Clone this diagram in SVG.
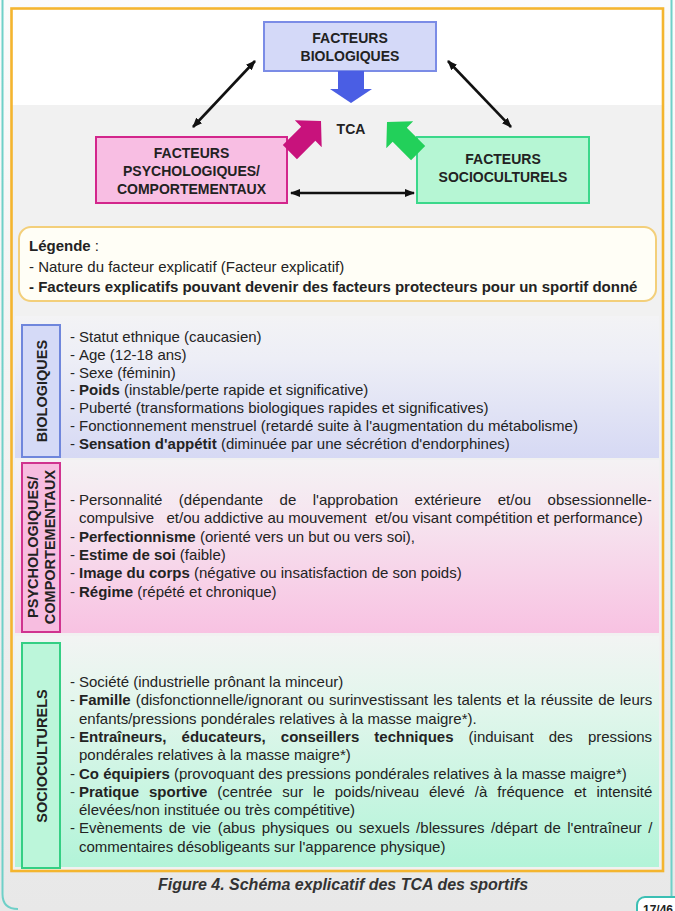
<svg xmlns="http://www.w3.org/2000/svg" width="675" height="911" viewBox="0 0 675 911">
<defs>
<style>
.txt{font-family:"Liberation Sans",Arial,Helvetica,sans-serif;font-size:15px;fill:#232323}
.b{font-weight:bold}
.head{font-family:"Liberation Sans",Arial,Helvetica,sans-serif;font-size:14px;font-weight:bold;fill:#222;text-anchor:middle}
.side{font-family:"Liberation Sans",Arial,Helvetica,sans-serif;font-size:14.5px;font-weight:bold;fill:#222;text-anchor:middle}
.conn{stroke:#111;stroke-width:2.6;fill:none;marker-start:url(#ah);marker-end:url(#ah)}
.teal{stroke:#6fd0c8;stroke-width:2;fill:none}
</style>
<marker id="ah" viewBox="0 0 10 8" refX="9" refY="4" markerWidth="10" markerHeight="8" markerUnits="userSpaceOnUse" orient="auto-start-reverse">
<path d="M0,0 L10,4 L0,8 z" fill="#111"/>
</marker>
<linearGradient id="gPage" x1="0" y1="0" x2="0" y2="1">
<stop offset="0" stop-color="#FBFBFB"/><stop offset="1" stop-color="#E8E8E8"/>
</linearGradient>
<linearGradient id="gBio" x1="0" y1="0" x2="0" y2="1">
<stop offset="0" stop-color="#F3F3F5"/><stop offset="0.3" stop-color="#EDEEF6"/><stop offset="1" stop-color="#D6D9F4"/>
</linearGradient>
<linearGradient id="gPsy" x1="0" y1="0" x2="0" y2="1">
<stop offset="0" stop-color="#F4F2F4"/><stop offset="0.3" stop-color="#F6E6F0"/><stop offset="1" stop-color="#F8C2E2"/>
</linearGradient>
<linearGradient id="gSoc" x1="0" y1="0" x2="0" y2="1">
<stop offset="0" stop-color="#F2F4F3"/><stop offset="0.3" stop-color="#E2F6EC"/><stop offset="1" stop-color="#B2F4D8"/>
</linearGradient>
<path id="blockArrow" d="M0,0 L-18,-19 L-18,-10 L-44,-10 L-44,10 L-18,10 L-18,19 Z"/>
</defs>

<!-- page background and outer frame -->
<rect x="0" y="0" width="675" height="911" fill="url(#gPage)"/>
<path class="teal" d="M2.5,0 V894 Q2.5,909 18,909"/>
<path class="teal" d="M671.5,0 V897"/>
<rect x="12" y="9" width="651" height="862" fill="#F1F1F1"/>
<rect x="12" y="9" width="651" height="96" fill="#FFFFFF"/>

<!-- factor bands -->
<rect x="15" y="316" width="644" height="142" fill="url(#gBio)"/>
<rect x="15" y="460" width="644" height="173" fill="url(#gPsy)"/>
<rect x="15" y="636" width="644" height="231" fill="url(#gSoc)"/>

<rect x="11.5" y="8.5" width="651.5" height="862.5" fill="none" stroke="#F4B52F" stroke-width="2.6"/>

<!-- connectors -->
<g id="connectors">
<line class="conn" x1="255" y1="61" x2="193" y2="127"/>
<line class="conn" x1="448" y1="61" x2="511" y2="127"/>
<line class="conn" x1="291" y1="193" x2="414" y2="193"/>
</g>

<!-- top diagram -->
<g id="node-bio">
<rect x="264" y="22" width="172" height="49" fill="#D4D9F8" stroke="#7B8CE6" stroke-width="2"/>
<text class="head" x="350" y="43">FACTEURS</text>
<text class="head" x="350" y="61">BIOLOGIQUES</text>
<polygon points="338,71 364,71 364,89 372,89 351,103 330,89 338,89" fill="#4A5EE4"/>
</g>

<g id="node-psy">
<rect x="96" y="137" width="191" height="66" fill="#F8BEE3" stroke="#D3268C" stroke-width="2"/>
<text class="head" x="191.5" y="158">FACTEURS</text>
<text class="head" x="191.5" y="176">PSYCHOLOGIQUES/</text>
<text class="head" x="191.5" y="194">COMPORTEMENTAUX</text>
<use href="#blockArrow" transform="translate(321,121) rotate(-45)" fill="#C8127C"/>
</g>

<g id="node-soc">
<rect x="417" y="137" width="172" height="66" fill="#B6F6D4" stroke="#3BD88B" stroke-width="2"/>
<text class="head" x="503" y="164">FACTEURS</text>
<text class="head" x="503" y="182">SOCIOCULTURELS</text>
<use href="#blockArrow" transform="translate(387,122) rotate(-135)" fill="#22D05A"/>
</g>

<g id="node-tca">
<text class="head" x="351" y="134">TCA</text>
</g>

<!-- legend -->
<g id="legend">
<rect x="19" y="227" width="637" height="74" rx="12" fill="#FFFEF6" stroke="#F3CF7A" stroke-width="2"/>
<text class="txt" x="29" y="251"><tspan class="b">Légende</tspan> :</text>
<text class="txt" x="29" y="272">- Nature du facteur explicatif (Facteur explicatif)</text>
<text class="txt b" x="29" y="292">- Facteurs explicatifs pouvant devenir des facteurs protecteurs pour un sportif donné</text>
</g>

<!-- biological factors -->
<g id="section-bio">
<rect x="22" y="325" width="38" height="132" fill="#D5DAF7" stroke="#6F86DC" stroke-width="2"/>
<text class="side" transform="translate(47,391) rotate(-90)">BIOLOGIQUES</text>
<g class="txt">
<text y="342"><tspan x="70">-</tspan><tspan x="79">Statut ethnique (caucasien)</tspan></text>
<text y="359.8"><tspan x="70">-</tspan><tspan x="79">Age (12-18 ans)</tspan></text>
<text y="377.6"><tspan x="70">-</tspan><tspan x="79">Sexe (féminin)</tspan></text>
<text y="395.4"><tspan x="70">-</tspan><tspan x="79"><tspan class="b">Poids</tspan> (instable/perte rapide et significative)</tspan></text>
<text y="413.2"><tspan x="70">-</tspan><tspan x="79">Puberté (transformations biologiques rapides et significatives)</tspan></text>
<text y="431"><tspan x="70">-</tspan><tspan x="79">Fonctionnement menstruel (retardé suite à l'augmentation du métabolisme)</tspan></text>
<text y="448.8"><tspan x="70">-</tspan><tspan x="79"><tspan class="b">Sensation d'appétit</tspan> (diminuée par une sécrétion d'endorphines)</tspan></text>
</g>
</g>

<!-- psychological / behavioural factors -->
<g id="section-psy">
<rect x="22" y="463" width="38" height="169" fill="#F7BDE0" stroke="#D0338F" stroke-width="2"/>
<text class="side" transform="translate(38,547) rotate(-90)">PSYCHOLOGIQUES/</text>
<text class="side" transform="translate(55,547) rotate(-90)">COMPORTEMENTAUX</text>
<g class="txt">
<text y="505" word-spacing="12.3"><tspan x="70">-</tspan><tspan x="79">Personnalité (dépendante de l'approbation extérieure et/ou obsessionnelle-</tspan></text>
<text y="523.3" x="79" xml:space="preserve" style="white-space:pre">compulsive   et/ou addictive au mouvement  et/ou visant compétition et performance)</text>
<text y="541.6"><tspan x="70">-</tspan><tspan x="79"><tspan class="b">Perfectionnisme</tspan> (orienté vers un but ou vers soi),</tspan></text>
<text y="559.9"><tspan x="70">-</tspan><tspan x="79"><tspan class="b">Estime de soi</tspan> (faible)</tspan></text>
<text y="578.2"><tspan x="70">-</tspan><tspan x="79"><tspan class="b">Image du corps</tspan> (négative ou insatisfaction de son poids)</tspan></text>
<text y="596.5"><tspan x="70">-</tspan><tspan x="79"><tspan class="b">Régime</tspan> (répété et chronique)</tspan></text>
</g>
</g>

<!-- sociocultural factors -->
<g id="section-soc">
<rect x="22" y="643" width="38" height="225" fill="#BCF6DA" stroke="#34CF84" stroke-width="2"/>
<text class="side" transform="translate(47,756) rotate(-90)">SOCIOCULTURELS</text>
<g class="txt">
<text y="687"><tspan x="70">-</tspan><tspan x="79">Société (industrielle prônant la minceur)</tspan></text>
<text y="705.3" word-spacing="0.8"><tspan x="70">-</tspan><tspan x="79"><tspan class="b">Famille</tspan> (disfonctionnelle/ignorant ou surinvestissant les talents et la réussite de leurs</tspan></text>
<text y="723.6" x="79">enfants/pressions pondérales relatives à la masse maigre*).</text>
<text y="741.9" word-spacing="10.9"><tspan x="70">-</tspan><tspan x="79"><tspan class="b">Entraîneurs, éducateurs, conseillers techniques</tspan> (induisant des pressions</tspan></text>
<text y="760.2" x="79">pondérales relatives à la masse maigre*)</text>
<text y="778.5"><tspan x="70">-</tspan><tspan x="79"><tspan class="b">Co équipiers</tspan> (provoquant des pressions pondérales relatives à la masse maigre*)</tspan></text>
<text y="796.8" word-spacing="5.8"><tspan x="70">-</tspan><tspan x="79"><tspan class="b">Pratique sportive</tspan> (centrée sur le poids/niveau élevé /à fréquence et intensité</tspan></text>
<text y="815.1" x="79">élevées/non instituée ou très compétitive)</text>
<text y="833.4" word-spacing="2.3"><tspan x="70">-</tspan><tspan x="79">Evènements de vie (abus physiques ou sexuels /blessures /départ de l'entraîneur /</tspan></text>
<text y="851.7" x="79">commentaires désobligeants sur l'apparence physique)</text>
</g>
</g>

<!-- caption and page number -->
<g id="caption">
<text x="343" y="890" text-anchor="middle" font-family="'Liberation Sans',Arial,Helvetica,sans-serif" font-size="16" font-weight="bold" font-style="italic" fill="#333">Figure 4. Schéma explicatif des TCA des sportifs</text>
</g>
<g id="page-number">
<rect x="637" y="897" width="60" height="30" rx="8" fill="#FFFFFF" stroke="#3CBFB4" stroke-width="2"/>
<text x="643" y="914" font-family="'Liberation Sans',Arial,Helvetica,sans-serif" font-size="12" font-weight="bold" fill="#222">17/46</text>
</g>
</svg>
